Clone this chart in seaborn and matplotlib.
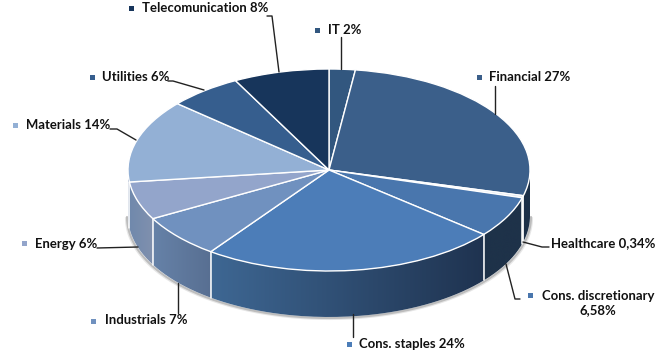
import numpy as np
import matplotlib
matplotlib.use("Agg")
import matplotlib.pyplot as plt
from matplotlib.path import Path
from matplotlib.patches import PathPatch
import seaborn as sns

sectors = ["IT", "Financial", "Healthcare", "Cons. discretionary", "Cons. staples",
           "Industrials", "Energy", "Materials", "Utilities", "Telecomunication"]
slice_sizes = [2.1, 27, 0.34, 6.58, 24, 7, 6.1, 13.3, 5.9, 7.7]
label_texts = ["IT 2%", "Financial 27%", "Healthcare 0,34%", "Cons. discretionary\n6,58%",
               "Cons. staples 24%", "Industrials 7%", "Energy 6%", "Materials 14%",
               "Utilities 6%", "Telecomunication 8%"]
top_colors = ["#32577F", "#3B5F8A", "#DCE4EE", "#4976AD", "#4C7DB8",
              "#7091BF", "#93A5CB", "#93B0D5", "#365E8E", "#17355B"]
wall_left = ["#1C3048", "#1C3048", "#B8C0C8", "#1E3249", "#3E6793",
             "#6682A8", "#7089AC", "#7F95B8", "#365E8E", "#17355B"]
wall_right = ["#1C3048", "#1C3048", "#B8C0C8", "#1E3249", "#1F3350",
              "#586F92", "#8090AE", "#7089AC", "#365E8E", "#17355B"]

W, H = 657, 364
CX, CY, RX, RY, DEPTH = 329, 170, 201, 101, 46

sns.set_theme(style="white")
plt.rcParams["font.family"] = ["Lato", "DejaVu Sans"]

fig = plt.figure(figsize=(W / 100, H / 100), dpi=100, facecolor="white")
ax = fig.add_axes([0, 0, 1, 1])
wedges, _ = ax.pie(slice_sizes, colors=top_colors, startangle=90, counterclock=False,
                   radius=1, wedgeprops=dict(edgecolor="white", linewidth=1.0, zorder=5))
ax.axis("off")

d = DEPTH / RY
edges = np.cumsum([0] + slice_sizes) / sum(slice_sizes) * 2 * np.pi

# soft shadow under the rim
t = np.linspace(np.pi / 2, 3 * np.pi / 2, 200)
for off, col in [(2.0, "#E6E6E6"), (1.0, "#BDBDBD")]:
    ax.plot(np.sin(t) * (1 + off / RX), np.cos(t) - d - off / RY, color=col, lw=1.5, zorder=1)

# side wall of each slice
for i in range(len(slice_sizes)):
    a = max(edges[i], np.pi / 2)
    b = min(edges[i + 1], 3 * np.pi / 2)
    if b <= a:
        continue
    th = np.linspace(a, b, 80)
    x, y = np.sin(th), np.cos(th)
    verts = np.r_[np.c_[x, y], np.c_[x[::-1], y[::-1] - d], [[x[0], y[0]]]]
    patch = PathPatch(Path(verts), transform=ax.transData, facecolor="none", edgecolor="none")
    ax.add_patch(patch)
    cmap = sns.blend_palette([wall_left[i], wall_right[i]], as_cmap=True)
    grad = np.linspace(0, 1, 128)
    extent = (x.min(), x.max(), y.min() - d, y.max())
    im = ax.imshow(grad[None, :], cmap=cmap, extent=extent, aspect="auto", zorder=2)
    im.set_clip_path(patch)

# separators on the wall
for e in edges:
    if np.pi / 2 < e < 3 * np.pi / 2:
        ax.plot([np.sin(e)] * 2, [np.cos(e), np.cos(e) - d], color="white", lw=1.1, zorder=3)

ax.set_xlim(-CX / RX, (W - CX) / RX)
ax.set_ylim(-(H - CY) / RY, CY / RY)
ax.set_aspect("auto")

# overlay in pixel units for labels and leaders
ov = fig.add_axes([0, 0, 1, 1], facecolor="none")
ov.set_xlim(0, W)
ov.set_ylim(H, 0)
ov.axis("off")

label_pos = [(328, 30), (489, 77), (551, 243), (598, 303), (359, 344),
             (105, 320), (35, 244), (26, 125), (102, 77), (142, 8)]
label_ha = ["left", "left", "left", "center", "left", "left", "left", "left", "left", "left"]
marker_pos = [(317, 30), (479, 77), None, (530, 295), (349, 344),
              (93, 321), (24, 243), (15, 125), (92, 77), (131, 8)]
leaders = [
    [(341, 37), (341, 69)],
    [(495, 86), (495, 114)],
    [(523, 242), (542, 247), (549, 247)],
    [(506, 264), (515, 299), (520, 299)],
    [(353, 314), (353, 337)],
    [(178, 283), (178, 313)],
    [(97, 248), (138, 247)],
    [(110, 129), (117, 129), (136, 140)],
    [(168, 81), (173, 81), (204, 90)],
    [(267, 16), (272, 16), (279, 72)],
]
for i, txt in enumerate(label_texts):
    x, y = label_pos[i]
    ov.text(x, y, txt, ha=label_ha[i], va="center", multialignment="center",
            fontsize=9.45, fontweight="bold", color="#111111", linespacing=1.2)
    if marker_pos[i] is not None:
        ov.plot(*marker_pos[i], marker="s", ms=3.6, color=top_colors[i], mew=0)
    pts = np.array(leaders[i])
    ov.plot(pts[:, 0], pts[:, 1], color="#222222", lw=1.0)

fig.savefig("out.png", dpi=100, facecolor="white")
